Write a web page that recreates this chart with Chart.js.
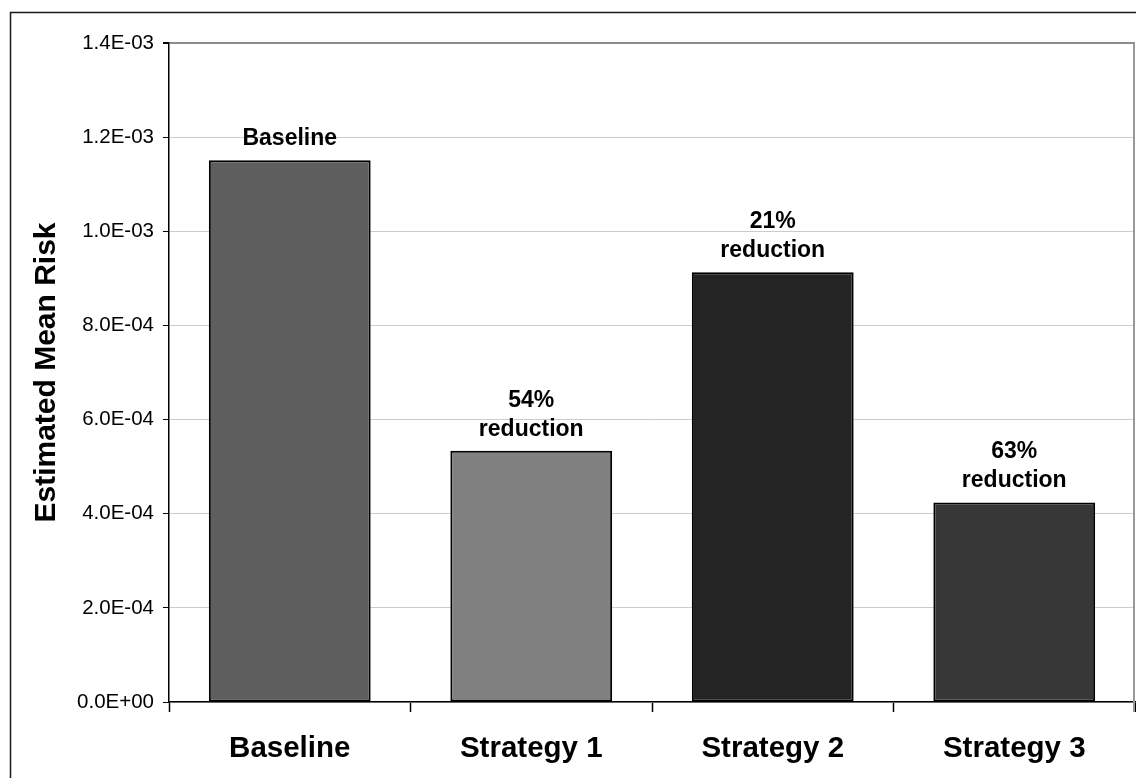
<!DOCTYPE html>
<html>
<head>
<meta charset="utf-8">
<script src="https://cdn.jsdelivr.net/npm/chart.js@4/dist/chart.umd.min.js"></script>
<style>
  html, body { margin: 0; padding: 0; background: #ffffff; }
  #wrap { position: relative; width: 1136px; height: 778px; }
</style>
</head>
<body>
<div id="wrap"><canvas id="c" width="1136" height="778"></canvas></div>
<script>
// Categories and estimated mean risk per strategy
const categories = ['Baseline', 'Strategy 1', 'Strategy 2', 'Strategy 3'];
const meanRisk = [1.151e-3, 5.34e-4, 9.13e-4, 4.24e-4];
const barColors = ['#5e5e5e', '#808080', '#242424', '#373737'];
const yTicks = [0, 2e-4, 4e-4, 6e-4, 8e-4, 1.0e-3, 1.2e-3, 1.4e-3];
const yTitle = 'Estimated Mean Risk';

// "1.4E-03" style scientific format
function sci(v) {
  if (Math.abs(v) < 1e-12) return '0.0E+00';
  const s = v.toExponential(1);
  const [m, e] = s.split('e');
  const sign = e[0] === '-' ? '-' : '+';
  const digits = e.replace(/[+-]/, '').padStart(2, '0');
  return m + 'E' + sign + digits;
}

// Label above each bar: baseline name, or reduction relative to baseline
const barLabels = meanRisk.map((v, i) => i === 0
  ? [categories[0]]
  : [Math.round((1 - v / meanRisk[0]) * 100) + '%', 'reduction']);

const FONT = '"Liberation Sans", Arial, sans-serif';

const decorations = {
  id: 'decorations',
  beforeDraw(chart) {
    const ctx = chart.ctx;
    ctx.save();
    ctx.fillStyle = '#ffffff';
    ctx.fillRect(0, 0, chart.width, chart.height);
    // outer frame
    ctx.strokeStyle = '#1a1a1a';
    ctx.lineWidth = 1.5;
    ctx.beginPath();
    ctx.moveTo(10.5, chart.height + 2);
    ctx.lineTo(10.5, 12.5);
    ctx.lineTo(chart.width + 2, 12.5);
    ctx.stroke();
    ctx.restore();
  },
  afterDatasetsDraw(chart) {
    const ctx = chart.ctx;
    const area = chart.chartArea;
    ctx.save();
    // plot area right edge
    ctx.strokeStyle = '#999999';
    ctx.lineWidth = 2;
    ctx.beginPath();
    ctx.moveTo(area.right - 1, area.top);
    ctx.lineTo(area.right - 1, area.bottom + 10);
    ctx.stroke();
    // labels over bars
    const meta = chart.getDatasetMeta(0);
    ctx.fillStyle = '#000000';
    ctx.font = 'bold 23px ' + FONT;
    ctx.textAlign = 'center';
    ctx.textBaseline = 'alphabetic';
    meta.data.forEach((bar, i) => {
      const lines = barLabels[i];
      const lh = 29;
      let y = bar.y - 15 - (lines.length - 1) * lh;
      lines.forEach(t => { ctx.fillText(t, bar.x, y); y += lh; });
    });
    ctx.restore();
  }
};

new Chart(document.getElementById('c'), {
  type: 'bar',
  data: {
    labels: categories,
    datasets: [{
      data: meanRisk,
      backgroundColor: barColors,
      borderColor: '#000000',
      borderWidth: 2,
      borderSkipped: false,
      categoryPercentage: 1,
      barPercentage: 0.67
    }]
  },
  options: {
    responsive: false,
    animation: false,
    devicePixelRatio: 1,
    layout: { padding: { left: 10, top: 43, right: 1, bottom: 0 } },
    plugins: {
      legend: { display: false },
      tooltip: { enabled: false }
    },
    scales: {
      x: {
        grid: {
          offset: true,
          drawOnChartArea: false,
          drawTicks: true,
          tickLength: 10,
          tickColor: '#000000',
          tickWidth: 1.5
        },
        border: { color: '#000000', width: 1.5 },
        ticks: {
          color: '#000000',
          font: { family: FONT, size: 29.5, weight: 'bold' },
          padding: 19,
          maxRotation: 0
        },
        afterFit(s) { s.height = 76; }
      },
      y: {
        min: 0,
        max: 1.4e-3,
        afterBuildTicks(s) { s.ticks = yTicks.map(v => ({ value: v })); },
        grid: {
          color: ctx => (ctx.tick && ctx.tick.value >= 1.4e-3 - 1e-9) ? '#8c8c8c' : '#cccccc',
          lineWidth: ctx => (ctx.tick && ctx.tick.value >= 1.4e-3 - 1e-9) ? 2 : 1,
          tickLength: 6,
          tickColor: '#000000'
        },
        border: { color: '#000000', width: 1.5 },
        ticks: {
          color: '#000000',
          font: { family: FONT, size: 20.5 },
          padding: 9,
          callback: v => sci(v)
        },
        title: {
          display: true,
          text: yTitle,
          color: '#000000',
          font: { family: FONT, size: 30, weight: 'bold' },
          padding: { top: 19, bottom: 0 }
        },
        afterFit(s) { s.width = 159; }
      }
    }
  },
  plugins: [decorations]
});
</script>
</body>
</html>
